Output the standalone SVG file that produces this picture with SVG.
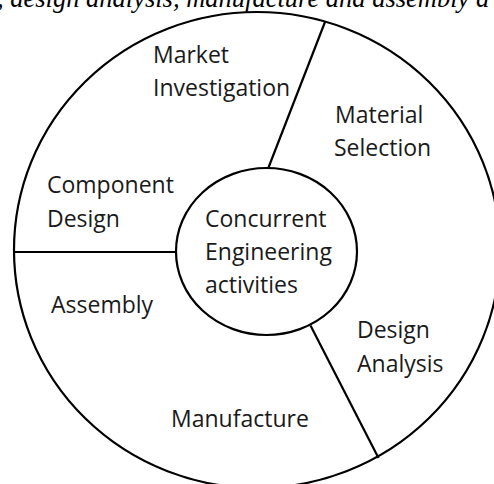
<svg xmlns="http://www.w3.org/2000/svg" width="494" height="484" viewBox="0 0 494 484">
<style>
.ln{fill:none;stroke:#000;stroke-width:2.2}
.lb{font-family:"Open Sans","Liberation Sans",sans-serif;font-size:23px;fill:#1a1a1a}
.cap{font-family:"Liberation Serif","Times New Roman",serif;font-style:italic;font-size:26.5px;fill:#000}
</style>
<rect width="494" height="484" fill="#fff"/>
<text class="cap" x="-3" y="7">, design analysis, manufacture and assembly a</text>
<g id="connectors">
<line class="ln" x1="14" y1="252" x2="176" y2="252"/>
<line class="ln" x1="325" y1="22" x2="268.5" y2="167.5"/>
<line class="ln" x1="310.5" y1="325.5" x2="378.5" y2="458"/>
</g>
<g id="outer">
<ellipse class="ln" cx="257" cy="250" rx="243" ry="238"/>
</g>
<g id="center">
<ellipse class="ln" cx="266.5" cy="251.5" rx="90.5" ry="83.5"/>
<text class="lb" x="205" y="227">Concurrent</text>
<text class="lb" x="205" y="260">Engineering</text>
<text class="lb" x="205" y="293">activities</text>
</g>
<g id="market"><text class="lb" x="153" y="62.5">Market</text><text class="lb" x="153" y="96">Investigation</text></g>
<g id="material"><text class="lb" x="335" y="123">Material</text><text class="lb" x="334" y="156">Selection</text></g>
<g id="component"><text class="lb" x="47" y="193">Component</text><text class="lb" x="47" y="227">Design</text></g>
<g id="assembly"><text class="lb" x="51" y="313">Assembly</text></g>
<g id="analysis"><text class="lb" x="357" y="338">Design</text><text class="lb" x="357" y="372">Analysis</text></g>
<g id="manufacture"><text class="lb" x="171" y="427">Manufacture</text></g>
</svg>
